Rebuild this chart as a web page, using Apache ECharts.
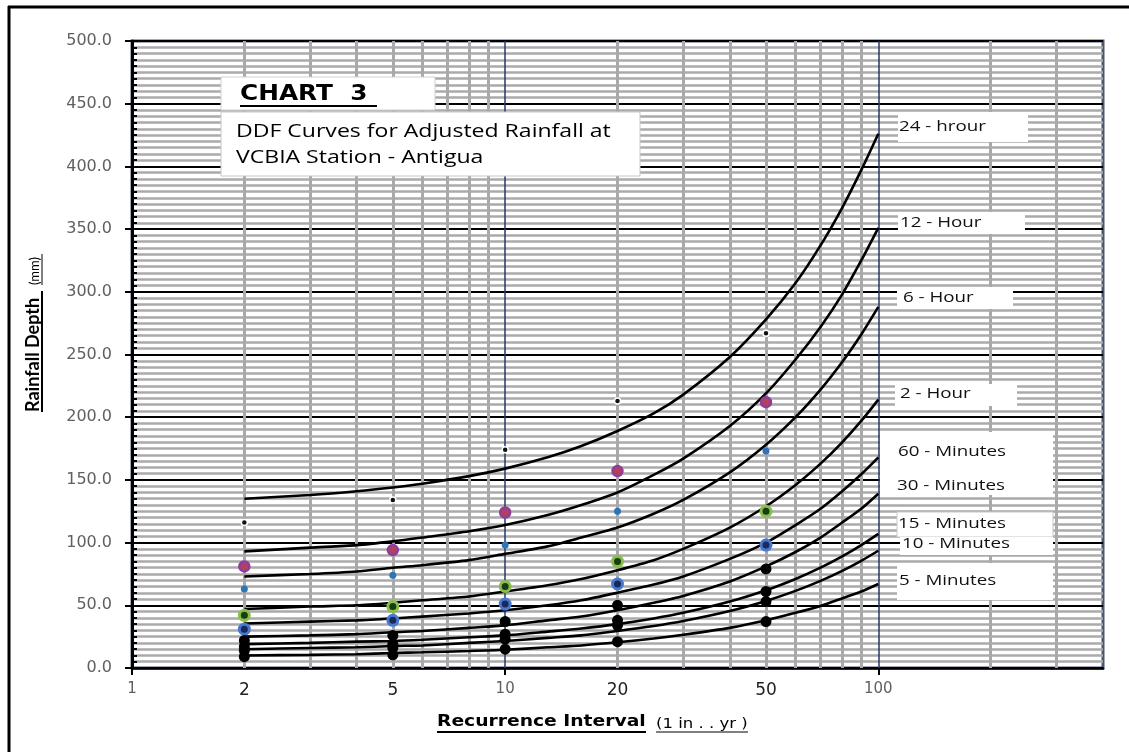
<!DOCTYPE html>
<html>
<head>
<meta charset="utf-8">
<script src="https://cdn.jsdelivr.net/npm/echarts@6/dist/echarts.min.js"></script>
<style>
  html, body { margin: 0; padding: 0; background: #fff; }
  #chart { width: 1129px; height: 752px; }
</style>
</head>
<body>
<div id="chart"></div>
<script>
// return periods of the plotted observations (1 in .. yr)
const returnPeriods = [2, 5, 10, 20, 50];

// observed (adjusted) depths, mm
const obs24h = [116, 134, 174, 213, 267];
const obs12h = [81, 94, 124, 157, 212];
const obs6h = [63, 74, 98, 125, 173];
const obs2h = [42, 49, 65, 85, 125];
const obs60m = [31, 38, 51, 67, 98];
const obs30m = [22, 26, 37, 50, 79];
const obs15m = [17, 19, 27, 38, 61];
const obs10m = [14, 16, 23, 34, 53];
const obs5m = [9, 10.5, 15, 21, 37];

// fitted DDF curves
const curveX = [2, 3, 4, 5, 6, 8, 10, 13, 16, 20, 25, 30, 40, 50, 60, 70, 80, 90, 100];
const fit24h = [135, 138, 141, 144, 147, 153, 159, 168, 177, 189, 203, 218, 248, 278, 307, 337, 367, 397, 426];
const fit12h = [93, 96, 98, 101, 104, 109, 114, 122, 130, 140, 154, 167, 193, 219, 246, 272, 298, 325, 351];
const fit6h = [73, 75, 77, 80, 82, 86, 91, 97, 104, 112, 123, 134, 156, 178, 200, 222, 244, 266, 288];
const fit2h = [47, 49, 50, 52, 54, 57, 61, 66, 71, 78, 86, 95, 112, 129, 146, 163, 180, 197, 214];
const fit60m = [35.5, 37, 38, 39.5, 41, 43.5, 46, 50, 54, 60, 66.5, 73, 87, 100, 114, 127, 141, 154.5, 168];
const fit30m = [25, 26, 27, 28.5, 29.5, 32, 34, 38, 41, 46, 52, 57.5, 69, 81, 92.5, 104, 116, 127, 139];
const fit15m = [19, 20, 21, 21.5, 22.5, 24.5, 26, 29, 31.5, 35, 39.5, 44, 53, 62, 71, 80, 89, 98, 107];
const fit10m = [15, 16, 16.5, 17.5, 18, 20, 21.5, 24, 26, 29.5, 33.5, 37.5, 45.5, 53.5, 61.5, 69.5, 77.5, 85.5, 93.5];
const fit5m = [10, 10.5, 11, 12, 12.5, 13.5, 14.5, 16.5, 18, 20.5, 23.5, 26.5, 32, 38, 44, 49.5, 55.5, 61, 67];

// axis ticks / labels
const xLabelValues = [1, 2, 5, 10, 20, 50, 100];
const xMinorGrid = [2, 3, 4, 5, 6, 7, 8, 9, 20, 30, 40, 50, 60, 70, 80, 90, 200, 300];
const xMajorGrid = [10, 100];

const pairs = (xs, ys) => xs.map((x, i) => [x, ys[i]]);

const curves = [fit24h, fit12h, fit6h, fit2h, fit60m, fit30m, fit15m, fit10m, fit5m];

// 观测点样式
const obsSeries = [
  { data: obs24h, size: 6, color: '#111', border: '#fff', bw: 1.5 },
  { data: obs12h, size: 10, color: '#b2415f', border: '#8d3d9e', bw: 2.5 },
  { data: obs6h, size: 7, color: '#2e75b6', border: '#2e75b6', bw: 0 },
  { data: obs2h, size: 10, color: '#1d3a12', border: '#86c04a', bw: 3 },
  { data: obs60m, size: 10, color: '#1a2a5a', border: '#4a78d0', bw: 3 },
  { data: obs30m, size: 11, color: '#000', border: '#000', bw: 0 },
  { data: obs15m, size: 11, color: '#000', border: '#000', bw: 0 },
  { data: obs10m, size: 11, color: '#000', border: '#000', bw: 0 },
  { data: obs5m, size: 11, color: '#000', border: '#000', bw: 0 }
];

// right-hand curve labels: [text, textX, textY, boxX, boxY, boxW, boxH, bordered]
const curveLabels = [
  ['24 - hrour', 899, 127, 898, 112, 130, 30, false],
  ['12 - Hour', 900, 223, 898, 212, 127, 22, false],
  ['6 - Hour', 903, 298, 897, 287, 116, 22, false],
  ['2 - Hour', 900, 394, 895, 384, 122, 22, false],
  ['60 - Minutes', 898, 452, 880, 432, 173, 63, false],
  ['30 - Minutes', 897, 486, 0, 0, 0, 0, false],
  ['15 - Minutes', 898, 524, 897, 512, 156, 25, true],
  ['10 - Minutes', 902, 544, 900, 537, 153, 18, false],
  ['5 - Minutes', 899, 581, 897, 563, 156, 37, false]
];

const myChart = echarts.init(document.getElementById('chart'));

const series = [];

// vertical grid lines (log axis minor divisions)
series.push({
  type: 'line',
  data: [],
  z: 1,
  silent: true,
  markLine: {
    silent: true,
    z: 1,
    symbol: 'none',
    label: { show: false },
    animation: false,
    data: xMinorGrid.map(v => ({ xAxis: v, lineStyle: { color: '#a9a9a9', width: 3, type: 'solid' } }))
      .concat(xMajorGrid.map(v => ({ xAxis: v, lineStyle: { color: '#27386a', width: 1.5, type: 'solid' } })))
  }
});

curves.forEach(c => {
  series.push({
    type: 'line',
    data: pairs(curveX, c),
    smooth: 0.25,
    symbol: 'none',
    z: 3,
    lineStyle: { color: '#000', width: 2.6 }
  });
});

obsSeries.forEach(s => {
  series.push({
    type: 'scatter',
    data: pairs(returnPeriods, s.data),
    symbolSize: s.size,
    z: 4,
    itemStyle: { color: s.color, borderColor: s.border, borderWidth: s.bw, opacity: 1 }
  });
});

const graphics = [
  // outer frame (left & top)
  { type: 'line', shape: { x1: 9, y1: 6, x2: 9, y2: 752 }, style: { stroke: '#000', lineWidth: 3 }, z: 100 },
  { type: 'line', shape: { x1: 8, y1: 7, x2: 1129, y2: 7 }, style: { stroke: '#000', lineWidth: 3 }, z: 100 },
  // chart title boxes
  { type: 'rect', shape: { x: 221, y: 77, width: 214, height: 33 }, style: { fill: '#fff', stroke: '#d0d0d0', lineWidth: 1 }, z: 100 },
  { type: 'text', x: 240, y: 95, scaleX: 1.18, style: { text: 'CHART  3', font: 'bold 21px "DejaVu Sans"', fill: '#000', textVerticalAlign: 'middle' }, z: 101 },
  { type: 'line', shape: { x1: 240, y1: 106, x2: 377, y2: 106 }, style: { stroke: '#000', lineWidth: 2 }, z: 101 },
  { type: 'rect', shape: { x: 221, y: 112, width: 419, height: 64 }, style: { fill: '#fff', stroke: '#c8c8c8', lineWidth: 1 }, z: 100 },
  { type: 'text', x: 236, y: 132, scaleX: 1.28, style: { text: 'DDF Curves for Adjusted Rainfall at', font: '18px "Open Sans"', fill: '#000', textVerticalAlign: 'middle' }, z: 101 },
  { type: 'text', x: 236, y: 158, scaleX: 1.28, style: { text: 'VCBIA Station - Antigua', font: '18px "Open Sans"', fill: '#000', textVerticalAlign: 'middle' }, z: 101 },
  // y axis title
  {
    type: 'group', x: 33, y: 412, rotation: Math.PI / 2, z: 100,
    children: [
      { type: 'text', x: 0, y: 0, style: { text: 'Rainfall Depth', font: 'bold 18px Lato', fill: '#000', textVerticalAlign: 'middle' }, z: 101 },
      { type: 'line', shape: { x1: 0, y1: 9, x2: 121, y2: 9 }, style: { stroke: '#000', lineWidth: 2 }, z: 101 },
      { type: 'text', x: 127, y: 2, style: { text: '(mm)', font: '13px Lato', fill: '#000', textVerticalAlign: 'middle' }, z: 101 },
      { type: 'line', shape: { x1: 127, y1: 9, x2: 158, y2: 9 }, style: { stroke: '#000', lineWidth: 1 }, z: 101 }
    ]
  },
  // x axis title
  { type: 'text', x: 437, y: 722, scaleX: 1.17, style: { text: 'Recurrence Interval', font: 'bold 16px "DejaVu Sans"', fill: '#000', textVerticalAlign: 'middle' }, z: 100 },
  { type: 'line', shape: { x1: 437, y1: 732, x2: 646, y2: 732 }, style: { stroke: '#000', lineWidth: 2 }, z: 100 },
  { type: 'text', x: 656, y: 724, scaleX: 1.18, style: { text: '(1 in . . yr )', font: '14px "DejaVu Sans"', fill: '#000', textVerticalAlign: 'middle' }, z: 100 },
  { type: 'line', shape: { x1: 656, y1: 732, x2: 748, y2: 732 }, style: { stroke: '#000', lineWidth: 1 }, z: 100 }
];

curveLabels.forEach(l => {
  if (l[5] > 0) {
    graphics.push({
      type: 'rect', shape: { x: l[3], y: l[4], width: l[5], height: l[6] },
      style: { fill: '#fff', stroke: l[7] ? '#c8c8c8' : null, lineWidth: 1 }, z: 100
    });
  }
  graphics.push({
    type: 'text', x: l[1], y: l[2], scaleX: 1.25,
    style: { text: l[0], font: '15px "Open Sans"', fill: '#111', textVerticalAlign: 'middle' }, z: 101
  });
});

const options = {
  animation: false,
  backgroundColor: '#fff',
  grid: {
    left: 132, top: 41, right: 26, bottom: 84,
    show: true, borderColor: '#4a5672', borderWidth: 3, backgroundColor: '#fff'
  },
  xAxis: {
    type: 'log',
    logBase: 10,
    min: 1,
    max: 400,
    axisLine: { lineStyle: { color: '#000', width: 2.5 } },
    axisTick: { show: true, customValues: [1, 10, 100], length: 7, lineStyle: { color: '#000', width: 2 } },
    axisLabel: {
      customValues: xLabelValues,
      margin: 14,
      formatter(v) {
        const n = Math.round(v);
        return (n === 1 || n === 10 || n === 100) ? '{g|' + n + '}' : '{b|' + n + '}';
      },
      rich: {
        g: { color: '#606060', fontSize: 15, fontFamily: 'DejaVu Sans' },
        b: { color: '#222', fontSize: 17, fontFamily: 'DejaVu Sans' }
      }
    },
    splitLine: { show: false }
  },
  yAxis: {
    type: 'value',
    min: 0,
    max: 500,
    interval: 50,
    axisLine: { show: true, lineStyle: { color: '#000', width: 3 } },
    axisTick: { show: true, length: 7, lineStyle: { color: '#000', width: 2 } },
    minorTick: { show: true, splitNumber: 10, length: -5, lineStyle: { color: '#000', width: 2 } },
    axisLabel: {
      margin: 20,
      color: '#606060',
      fontSize: 16,
      fontFamily: 'DejaVu Sans',
      formatter(v) { return v.toFixed(1); }
    },
    splitLine: { show: true, lineStyle: { color: '#000', width: 2 } },
    minorSplitLine: { show: true, lineStyle: { color: '#aaaaaa', width: 2.5 } }
  },
  graphic: graphics,
  series: series
};

myChart.setOption(options);
</script>
</body>
</html>
